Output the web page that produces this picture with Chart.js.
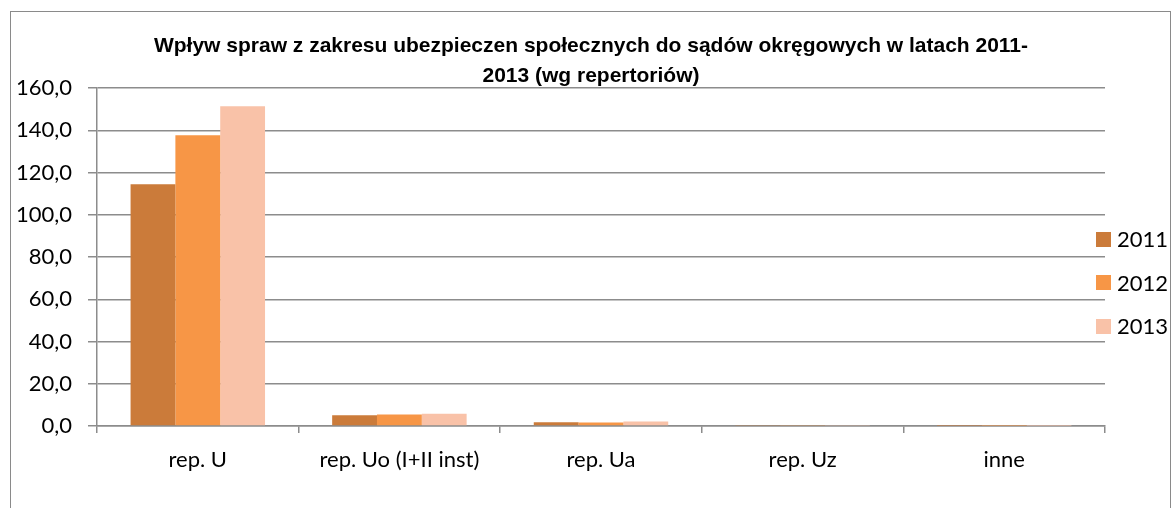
<!DOCTYPE html>
<html>
<head>
<meta charset="utf-8">
<script src="https://cdn.jsdelivr.net/npm/chart.js@4"></script>
<style>
  html, body { margin: 0; padding: 0; background: #fff; overflow: hidden; }
  #wrap { position: absolute; left: 0; top: 0; width: 1176px; height: 508px; }
  #frame { position: absolute; left: 10px; top: 11px; width: 1161px; height: 520px; border: 1px solid #8a8a8a; box-sizing: border-box; }
  #tytul { position: absolute; left: 91px; width: 1000px; top: 30px; text-align: center; font-family: "Liberation Sans", Arial, sans-serif; font-weight: bold; font-size: 21px; line-height: 30px; color: #000; }
  #legend { position: absolute; left: 1096px; top: 228px; font-family: Lato, "Open Sans", sans-serif; font-size: 22px; color: #000; }
  #legend div { height: 22px; margin-bottom: 21.5px; display: flex; align-items: center; }
  #legend span.box { display: inline-block; width: 15px; height: 15px; margin-right: 6px; }
  #legend span.txt { line-height: 22px; }
</style>
</head>
<body>
<div id="frame"></div>
<div id="wrap"><canvas id="wykres"></canvas></div>
<div id="tytul"></div>
<div id="legend"></div>
<script>
const kategorie = ['rep. U', 'rep. Uo (I+II inst)', 'rep. Ua', 'rep. Uz', 'inne'];
const lata = ['2011', '2012', '2013'];
const wartosci2011 = [114.4, 5.1, 1.8, 0.2, 0.1];
const wartosci2012 = [137.6, 5.4, 1.7, 0.2, 0.1];
const wartosci2013 = [151.4, 5.8, 2.1, 0.2, 0.1];
const kolory = ['#CB7B3A', '#F79646', '#F9C2A8'];
const tytul = ['Wpływ spraw z zakresu ubezpieczen społecznych do sądów okręgowych w latach 2011-', '2013 (wg repertoriów)'];

const szary = '#8c8c8c';
const fontOsi = { family: 'Lato, "Open Sans", sans-serif', size: 22 };

// tytul w HTML, wycentrowany jak w oryginale (nie nad obszarem wykresu)
document.getElementById('tytul').innerHTML = tytul.join('<br>');

const canvas = document.getElementById('wykres');
const chart = new Chart(canvas, {
    type: 'bar',
    data: {
        labels: kategorie,
        datasets: [
            { label: lata[0], data: wartosci2011, backgroundColor: kolory[0] },
            { label: lata[1], data: wartosci2012, backgroundColor: kolory[1] },
            { label: lata[2], data: wartosci2013, backgroundColor: kolory[2] }
        ]
    },
    options: {
        responsive: true,
        maintainAspectRatio: false,
        animation: false,
        layout: { padding: { left: 0, right: 71, top: 88, bottom: 0 } },
        datasets: { bar: { categoryPercentage: 0.667, barPercentage: 1 } },
        plugins: {
            legend: { display: false },
            tooltip: { enabled: false },
            title: { display: false }
        },
        scales: {
            x: {
                afterFit: s => { s.height = 82; },
                grid: { offset: true, drawOnChartArea: false, drawTicks: true, tickLength: 7, color: szary, lineWidth: 1.5 },
                border: { display: true, color: szary, width: 1.5 },
                ticks: { color: '#000', font: fontOsi, padding: 14, maxRotation: 0, autoSkip: false }
            },
            y: {
                min: 0,
                max: 160,
                afterFit: s => { s.width = 97; },
                grid: { color: szary, lineWidth: 1.5, tickLength: 9 },
                border: { display: true, color: szary, width: 1.5 },
                ticks: {
                    stepSize: 20,
                    color: '#000',
                    font: fontOsi,
                    padding: 16,
                    callback: v => v.toFixed(1).replace('.', ',')
                }
            }
        }
    }
});

// legenda w HTML, z danych wykresu
const legenda = document.getElementById('legend');
chart.data.datasets.forEach(ds => {
    const row = document.createElement('div');
    row.innerHTML = '<span class="box" style="background:' + ds.backgroundColor + '"></span><span class="txt">' + ds.label + '</span>';
    legenda.appendChild(row);
});
</script>
</body>
</html>
